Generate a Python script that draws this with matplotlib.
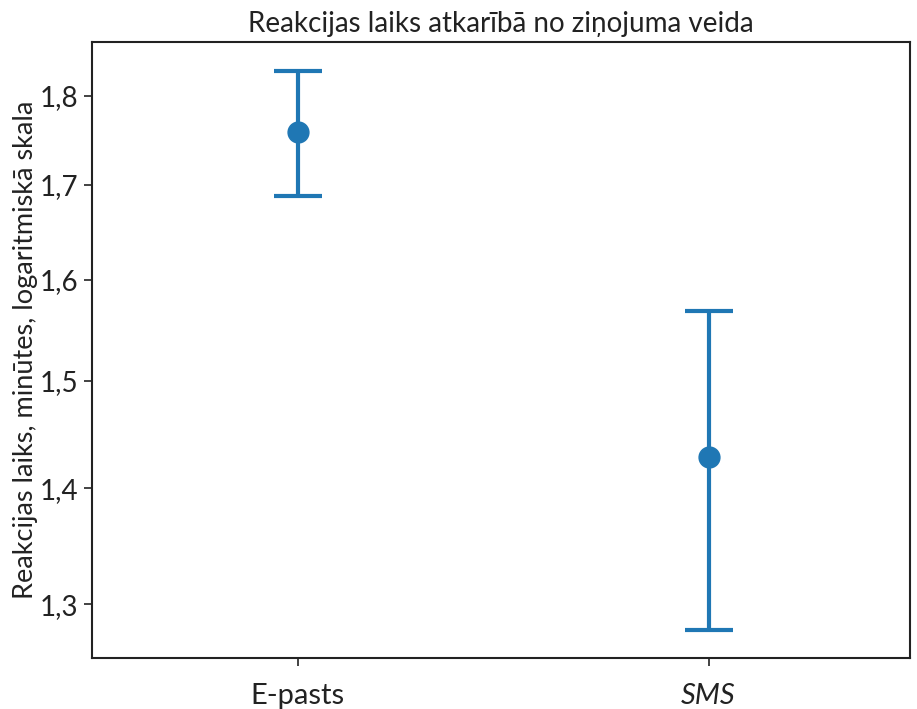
import matplotlib
matplotlib.use("Agg")
import matplotlib.pyplot as plt
from matplotlib.ticker import FixedLocator, FuncFormatter, NullLocator

plt.rcParams['font.family'] = ['Lato', 'DejaVu Sans']

# Mean reaction time per message type with confidence interval bounds
categories = ["E-pasts", "SMS"]
means = [1.759, 1.428]
ci_low = [1.688, 1.2785]
ci_high = [1.829, 1.5685]
yticks = [1.3, 1.4, 1.5, 1.6, 1.7, 1.8]

color = "#1f77b4"

fig = plt.figure(figsize=(9.17, 7.09), dpi=100)
ax = fig.add_axes([0.1003, 0.0719, 0.8921, 0.8689])

x = list(range(len(categories)))
yerr = [[m - lo for m, lo in zip(means, ci_low)],
        [hi - m for m, hi in zip(means, ci_high)]]
ax.errorbar(x, means, yerr=yerr, fmt="o", color=color, ecolor=color,
            elinewidth=3, capsize=17, capthick=3, markersize=15)

ax.set_yscale("log")
ax.set_ylim(1.256, 1.863)
ax.set_xlim(-0.5, 1.49)
ax.yaxis.set_major_locator(FixedLocator(yticks))
ax.yaxis.set_minor_locator(NullLocator())
ax.yaxis.set_major_formatter(FuncFormatter(lambda v, p: f"{v:.1f}".replace(".", ",")))

ax.set_xticks(x)
ax.set_xticklabels(categories)
ax.get_xticklabels()[1].set_style("italic")

ax.tick_params(axis="both", labelsize=20, length=6, width=1.2, colors="#222222",
               labelcolor="#222222", pad=4)
ax.tick_params(axis="x", pad=12, labelsize=21)
for s in ax.spines.values():
    s.set_linewidth(1.5)
    s.set_color("#222222")

ax.set_ylabel("Reakcijas laiks, minūtes, logaritmiskā skala", fontsize=19.5,
              color="#222222", labelpad=1)
ax.set_title("Reakcijas laiks atkarībā no ziņojuma veida", fontsize=20,
             color="#222222", pad=7)

fig.savefig("out.png", dpi=100)
